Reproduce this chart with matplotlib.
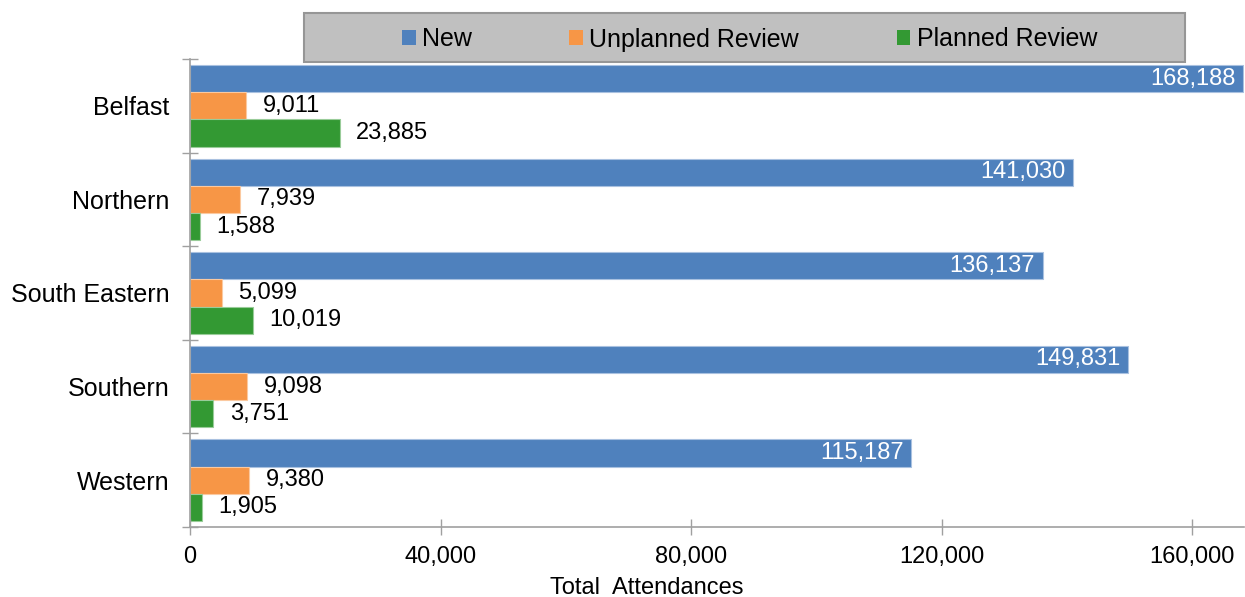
import matplotlib
matplotlib.use("Agg")
import matplotlib.pyplot as plt
from matplotlib.patches import Patch, Rectangle
from matplotlib.ticker import FuncFormatter, FixedLocator

plt.rcParams['font.family'] = ['Liberation Sans', 'DejaVu Sans']

categories = ["Belfast", "Northern", "South Eastern", "Southern", "Western"]
series_names = ["New", "Unplanned Review", "Planned Review"]
new = [168188, 141030, 136137, 149831, 115187]
unplanned = [9011, 7939, 5099, 9098, 9380]
planned = [23885, 1588, 10019, 3751, 1905]
x_ticks = [0, 40000, 80000, 120000, 160000]

colors = ["#4F81BD", "#F79646", "#339933"]
edges = ["#A9C1E0", "#FBC9A0", "#99CC99"]

FS = 17
FS_L = 18
fig = plt.figure(figsize=(12.45, 5.97), dpi=100)
W, H = 1245, 597
ax = fig.add_axes([190 / W, 1 - 527 / H, (1244 - 190) / W, (527 - 59) / H])

h = 0.29
offsets = [-h, 0.0, h]
ypos = list(range(len(categories)))
for s, (vals, col, ec, off) in enumerate(zip([new, unplanned, planned], colors, edges, offsets)):
    ys = [y + off for y in ypos]
    ax.barh(ys, vals, height=h, color=col, edgecolor=ec, linewidth=0.8, label=series_names[s])
    for y, v in zip(ys, vals):
        if s == 0:
            ax.annotate(f"{v:,}", xy=(v, y), xytext=(-5.5, 0), textcoords="offset points",
                        ha="right", va="center", color="white", fontsize=FS)
        else:
            ax.annotate(f"{v:,}", xy=(v, y), xytext=(12, 0), textcoords="offset points",
                        ha="left", va="center", color="black", fontsize=FS)

ax.set_xlim(0, 168300)
ax.set_ylim(len(categories) - 0.5, -0.5)

ax.xaxis.set_major_locator(FixedLocator(x_ticks))
ax.xaxis.set_major_formatter(FuncFormatter(lambda v, p: f"{int(v):,}"))
ax.tick_params(axis="x", direction="inout", length=12, width=1, color="#A0A0A0",
               labelsize=FS, pad=8)

ax.yaxis.set_major_locator(FixedLocator([i - 0.5 for i in range(len(categories) + 1)]))
ax.yaxis.set_major_formatter(FuncFormatter(lambda v, p: ""))
ax.yaxis.set_minor_locator(FixedLocator(ypos))
ax.set_yticks(ypos, categories, minor=True)
ax.tick_params(axis="y", which="major", direction="inout", length=11, width=1, color="#A0A0A0")
ax.tick_params(axis="y", which="minor", length=0, labelsize=FS_L, pad=15)

for sp in ["top", "right"]:
    ax.spines[sp].set_visible(False)
for sp in ["left", "bottom"]:
    ax.spines[sp].set_color("#A0A0A0")
    ax.spines[sp].set_linewidth(1.2)

ax.set_xlabel("Total  Attendances", fontsize=FS, va="center")
ax.xaxis.set_label_coords((647 - 190) / (1244 - 190), -(588 - 527) / (527 - 59))

# legend box
bx0, bx1, by0, by1 = 304, 1185, 13, 62
fig.patches.append(Rectangle((bx0 / W, 1 - by1 / H), (bx1 - bx0) / W, (by1 - by0) / H,
                             transform=fig.transFigure, facecolor="#C0C0C0",
                             edgecolor="#969696", linewidth=1.5, zorder=5))
handles = [Patch(facecolor=c, edgecolor="none") for c in colors]
leg = fig.legend(handles, series_names, loc="center", ncol=3, frameon=False,
                 bbox_to_anchor=(((bx0 + bx1) / 2 + 5) / W, 1 - ((by0 + by1) / 2 + 2) / H),
                 fontsize=FS_L, handlelength=0.55, handleheight=0.55, handletextpad=0.25,
                 columnspacing=3.9)
leg.set_zorder(6)

fig.savefig("out.png", dpi=100)
